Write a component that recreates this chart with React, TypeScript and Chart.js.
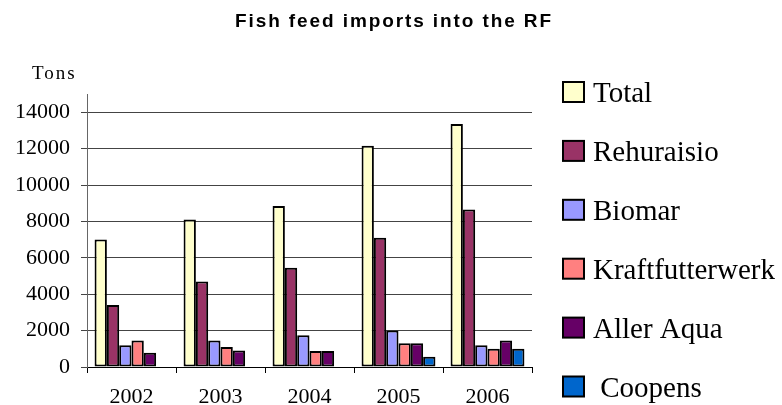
import React, { useEffect, useRef } from 'react';
import { Chart, registerables } from 'chart.js';

Chart.register(...registerables);

const years = ['2002', '2003', '2004', '2005', '2006'];
const total = [7000, 8100, 8850, 12150, 13350];
const rehuraisio = [3400, 4700, 5450, 7100, 8650];
const biomar = [1200, 1450, 1750, 2000, 1200];
const kraftfutterwerk = [1450, 1100, 880, 1300, 1000];
const allerAqua = [780, 900, 880, 1300, 1450];
const coopens = [null, null, null, 560, 1000];
const seriesNames = ['Total', 'Rehuraisio', 'Biomar', 'Kraftfutterwerk', 'Aller Aqua', ' Coopens'];
const seriesColors = ['#FFFFCC', '#993366', '#9999FF', '#FF8080', '#660066', '#0066CC'];
const yTickValues = [0, 2000, 4000, 6000, 8000, 10000, 12000, 14000];
const yMax = 15000;
const titleText = 'Fish feed imports into the RF';
const yAxisTitle = 'Tons';

const SERIF = '"Liberation Serif", "Times New Roman", serif';
const SANS = '"Liberation Sans", Arial, sans-serif';

const overlayPlugin = {
  id: 'overlay',
  afterDraw(chart: any) {
    const ctx = chart.ctx as CanvasRenderingContext2D;
    ctx.save();
    // Title
    ctx.fillStyle = '#000';
    ctx.font = `bold 19px ${SANS}`;
    (ctx as any).letterSpacing = '1.9px';
    ctx.textAlign = 'center';
    ctx.textBaseline = 'alphabetic';
    ctx.fillText(titleText, 394, 27);
    // Axis title
    ctx.font = `19px ${SERIF}`;
    (ctx as any).letterSpacing = '2px';
    ctx.textAlign = 'left';
    ctx.fillText(yAxisTitle, 32, 79);
    (ctx as any).letterSpacing = '0px';
    // Legend
    const boxX = 563;
    const boxW = 21;
    const boxH = 20;
    const startY = 92;
    const step = 58.9;
    ctx.font = `29px ${SERIF}`;
    chart.data.datasets.forEach((ds: any, i: number) => {
      const cy = startY + i * step;
      ctx.fillStyle = ds.backgroundColor;
      ctx.fillRect(boxX, cy - boxH / 2, boxW, boxH);
      ctx.lineWidth = 2;
      ctx.strokeStyle = '#000';
      ctx.strokeRect(boxX, cy - boxH / 2, boxW, boxH);
      ctx.fillStyle = '#000';
      ctx.textAlign = 'left';
      ctx.textBaseline = 'alphabetic';
      ctx.fillText(ds.label, 593, cy + 10);
    });
    ctx.restore();
  },
};

export default function App() {
  const ref = useRef<HTMLCanvasElement>(null);
  useEffect(() => {
    if (!ref.current) return;
    const seriesData = [total, rehuraisio, biomar, kraftfutterwerk, allerAqua, coopens];
    const chart = new Chart(ref.current, {
      type: 'bar',
      data: {
        labels: years,
        datasets: seriesData.map((d, i) => ({
          label: seriesNames[i],
          data: d as any,
          backgroundColor: seriesColors[i],
          borderColor: '#000',
          borderWidth: 2,
          borderSkipped: false,
          categoryPercentage: 0.83,
          barPercentage: 1.0,
        })),
      },
      options: {
        responsive: false,
        animation: false,
        layout: { padding: { left: 0, right: 250, top: 94, bottom: 0 } },
        plugins: {
          legend: { display: false },
          title: { display: false },
          tooltip: { enabled: false },
        },
        scales: {
          x: {
            offset: true,
            grid: {
              offset: true,
              drawOnChartArea: false,
              drawTicks: true,
              tickLength: 6,
              color: '#000',
            },
            border: { color: '#000', width: 1 },
            ticks: {
              color: '#000',
              font: { family: SERIF, size: 22 },
              padding: 11,
              maxRotation: 0,
            },
            afterFit(scale: any) {
              scale.height = 38;
            },
          },
          y: {
            min: 0,
            max: yMax,
            grid: {
              color: '#444',
              lineWidth: 1,
              drawTicks: true,
              tickLength: 6,
            },
            border: { color: '#666', width: 1 },
            ticks: {
              stepSize: 2000,
              color: '#000',
              font: { family: SERIF, size: 22 },
              padding: 11,
              callback: (v: any) => String(v),
            },
            afterBuildTicks(scale: any) {
              scale.ticks = yTickValues.map((v) => ({ value: v }));
            },
            afterFit(scale: any) {
              scale.width = 87;
            },
          },
        },
      },
      plugins: [overlayPlugin],
    });
    return () => chart.destroy();
  }, []);
  return (
    <div style={{ position: 'absolute', left: 0, top: 0, width: 782, height: 405, background: '#fff' }}>
      <canvas ref={ref} width={782} height={405} style={{ width: 782, height: 405 }} />
    </div>
  );
}
